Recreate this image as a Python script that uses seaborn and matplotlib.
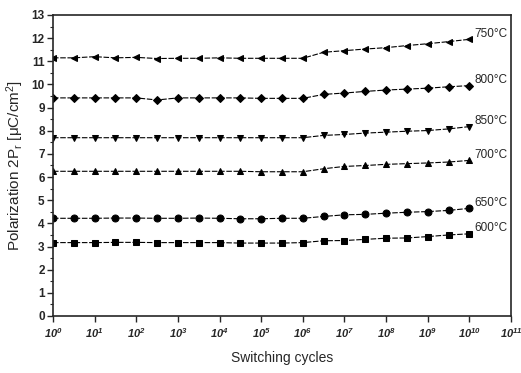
import numpy as np
import pandas as pd
import matplotlib
matplotlib.use("Agg")
import matplotlib.pyplot as plt
import seaborn as sns
from matplotlib.ticker import LogLocator, MultipleLocator, FuncFormatter

# switching cycles: 10^0 ... 10^10 in half-decade steps
exponents = [0, 0.5, 1, 1.5, 2, 2.5, 3, 3.5, 4, 4.5, 5, 5.5, 6, 6.5, 7, 7.5, 8, 8.5, 9, 9.5, 10]
cycles = [10 ** e for e in exponents]

p750 = [11.15, 11.15, 11.2, 11.15, 11.17, 11.12, 11.13, 11.13, 11.15, 11.13, 11.13, 11.13, 11.13,
        11.39, 11.46, 11.53, 11.59, 11.68, 11.76, 11.85, 11.95]
p800 = [9.42, 9.42, 9.42, 9.42, 9.42, 9.33, 9.42, 9.42, 9.42, 9.42, 9.40, 9.40, 9.40,
        9.57, 9.63, 9.70, 9.76, 9.80, 9.84, 9.90, 9.95]
p850 = [7.7, 7.7, 7.7, 7.7, 7.7, 7.7, 7.7, 7.7, 7.7, 7.7, 7.7, 7.7, 7.7,
        7.80, 7.84, 7.90, 7.94, 7.98, 8.01, 8.08, 8.18]
p700 = [6.25, 6.25, 6.25, 6.25, 6.25, 6.25, 6.25, 6.25, 6.25, 6.25, 6.23, 6.23, 6.23,
        6.36, 6.46, 6.50, 6.55, 6.58, 6.61, 6.65, 6.72]
p650 = [4.22, 4.22, 4.22, 4.23, 4.23, 4.22, 4.22, 4.23, 4.22, 4.2, 4.2, 4.22, 4.22,
        4.30, 4.37, 4.39, 4.44, 4.48, 4.51, 4.56, 4.65]
p600 = [3.17, 3.17, 3.17, 3.18, 3.18, 3.17, 3.17, 3.17, 3.17, 3.15, 3.15, 3.15, 3.17,
        3.25, 3.26, 3.31, 3.36, 3.37, 3.43, 3.50, 3.55]

labels = ["750°C", "800°C", "850°C", "700°C", "650°C", "600°C"]
markers = ["<", "D", "v", "^", "o", "s"]
sizes = [5, 4.2, 5, 5, 5, 4.6]
series = [p750, p800, p850, p700, p650, p600]

rows = []
for lab, vals in zip(labels, series):
    for c, v in zip(cycles, vals):
        rows.append({"cycles": c, "P": v, "T": lab})
df = pd.DataFrame(rows)

sns.set_style("ticks")
plt.rcParams["font.family"] = ["Liberation Sans", "DejaVu Sans"]
plt.rcParams["mathtext.fontset"] = "custom"
plt.rcParams["mathtext.rm"] = "Liberation Sans"
plt.rcParams["mathtext.it"] = "Liberation Sans:italic"
plt.rcParams["mathtext.bf"] = "Liberation Sans:bold:italic"

fig = plt.figure(figsize=(5.21, 3.73), dpi=100)
ax = fig.add_axes([53 / 521, 1 - 316 / 373, 458 / 521, 301 / 373])

for lab, mk, ms in zip(labels, markers, sizes):
    sub = df[df["T"] == lab]
    sns.lineplot(data=sub, x="cycles", y="P", ax=ax, color="black", lw=0.8,
                 linestyle=(0, (5, 1.5)), marker=mk, markersize=ms,
                 markeredgecolor="black", markerfacecolor="black", legend=False)
    ax.text(sub["cycles"].iloc[-1] * 1.35, sub["P"].iloc[-1] + 0.25, lab,
            fontsize=8.5, ha="left", va="center")

ax.set_xscale("log")
ax.set_xlim(1, 1e11)
ax.set_ylim(0, 13)
ax.xaxis.set_major_locator(LogLocator(base=10, numticks=20))
ax.xaxis.set_minor_locator(plt.NullLocator())
ax.yaxis.set_major_locator(MultipleLocator(1))
ax.yaxis.set_minor_locator(MultipleLocator(0.5))
ax.xaxis.set_major_formatter(FuncFormatter(lambda v, p: r"$\mathbf{10^{%d}}$" % round(np.log10(v))))

ax.tick_params(axis="both", which="major", direction="out", length=4, width=1.0,
               labelsize=8.5, pad=2)
ax.tick_params(axis="x", which="major", labelsize=8, pad=3)
ax.tick_params(axis="y", which="minor", direction="out", length=2, width=0.8)
for lab in ax.get_yticklabels():
    lab.set_fontweight("bold")
for s in ax.spines.values():
    s.set_linewidth(1.2)
    s.set_visible(True)

ax.set_xlabel("Switching cycles", fontsize=10, labelpad=8)
ax.set_ylabel(r"Polarization 2P$_\mathregular{r}$ [$\mathregular{\mu}$C/cm$^\mathregular{2}$]",
              fontsize=11, labelpad=4)

fig.savefig("out.png", dpi=100)
